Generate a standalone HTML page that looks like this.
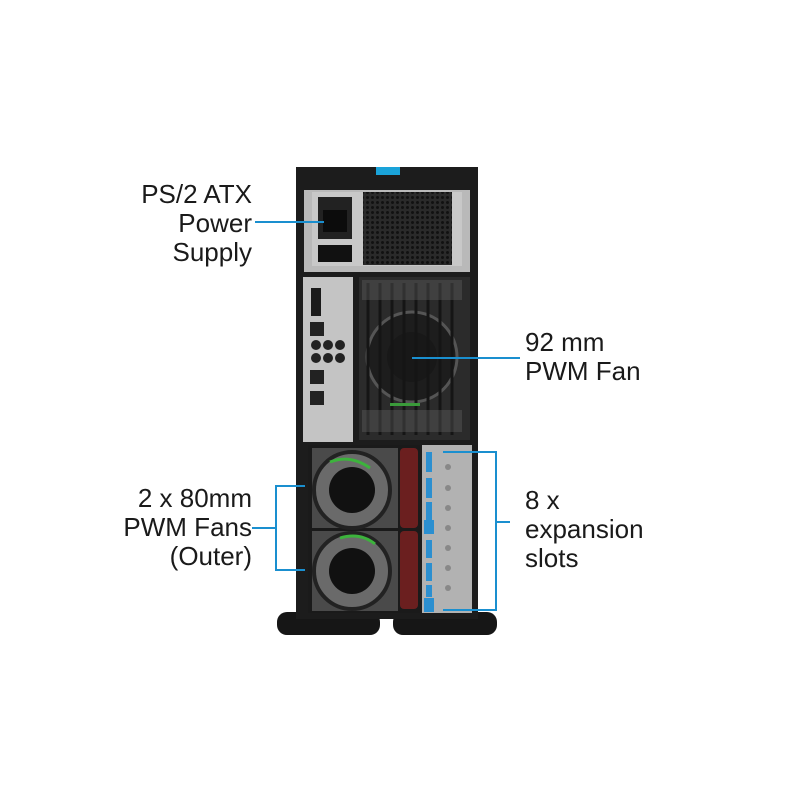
<!DOCTYPE html>
<html><head><style>
body{margin:0;width:800px;height:800px;background:#fff;position:relative;overflow:hidden;font-family:"Liberation Sans",sans-serif}
.t{position:absolute;font-size:26px;line-height:29px;color:#1a1a1a}
.r{text-align:right}
</style></head><body>
<svg width="800" height="800" style="position:absolute;left:0;top:0">
<defs>
<pattern id="mesh" width="5" height="5" patternUnits="userSpaceOnUse"><rect width="5" height="5" fill="#2a2a2a"/><circle cx="2.5" cy="2.5" r="1.5" fill="#111"/></pattern>
</defs>
<rect x="277" y="612" width="103" height="23" rx="10" fill="#161616"/>
<rect x="393" y="612" width="104" height="23" rx="10" fill="#161616"/>
<rect x="296" y="167" width="182" height="452" fill="#1c1c1c"/>
<rect x="376" y="167" width="24" height="8" fill="#1aa3d9"/>
<rect x="304" y="190" width="166" height="82" fill="#b9b9b9"/>
<rect x="312" y="192" width="150" height="74" fill="#c8c8c8"/>
<rect x="363" y="192" width="89" height="73" fill="url(#mesh)"/>
<rect x="318" y="197" width="34" height="42" fill="#222"/>
<rect x="323" y="210" width="24" height="22" fill="#0c0c0c"/>
<rect x="318" y="245" width="34" height="17" fill="#111"/>
<rect x="303" y="277" width="50" height="165" fill="#c4c4c4"/>
<rect x="311" y="288" width="10" height="28" fill="#1a1a1a"/>
<rect x="310" y="322" width="14" height="14" fill="#222"/>
<circle cx="316" cy="345" r="5" fill="#222"/><circle cx="328" cy="345" r="5" fill="#222"/><circle cx="340" cy="345" r="5" fill="#222"/>
<circle cx="316" cy="358" r="5" fill="#222"/><circle cx="328" cy="358" r="5" fill="#222"/><circle cx="340" cy="358" r="5" fill="#222"/>
<rect x="310" y="370" width="14" height="14" fill="#222"/>
<rect x="310" y="391" width="14" height="14" fill="#222"/>
<rect x="359" y="277" width="111" height="163" fill="#2b2b2b"/>
<circle cx="412" cy="357" r="45" fill="#1d1d1d" stroke="#555" stroke-width="3"/>
<circle cx="412" cy="357" r="25" fill="#181818"/>
<g stroke="#151515" stroke-width="3">
<line x1="368" y1="283" x2="368" y2="435"/><line x1="380" y1="283" x2="380" y2="435"/><line x1="392" y1="283" x2="392" y2="435"/><line x1="404" y1="283" x2="404" y2="435"/><line x1="416" y1="283" x2="416" y2="435"/><line x1="428" y1="283" x2="428" y2="435"/><line x1="440" y1="283" x2="440" y2="435"/><line x1="452" y1="283" x2="452" y2="435"/>
</g>
<rect x="362" y="280" width="100" height="20" fill="#666" opacity="0.35"/>
<rect x="362" y="410" width="100" height="22" fill="#666" opacity="0.35"/>
<rect x="390" y="403" width="30" height="3" fill="#3a9a3a"/>
<rect x="308" y="445" width="112" height="168" fill="#1a1a1a"/>
<rect x="312" y="448" width="86" height="80" fill="#4a4a4a"/>
<rect x="312" y="531" width="86" height="80" fill="#4a4a4a"/>
<circle cx="352" cy="490" r="38" fill="#6a6a6a" stroke="#222" stroke-width="4"/>
<circle cx="352" cy="571" r="38" fill="#6a6a6a" stroke="#222" stroke-width="4"/>
<circle cx="352" cy="490" r="23" fill="#111"/>
<circle cx="352" cy="571" r="23" fill="#111"/>
<path d="M330 462 q20 -8 40 6" stroke="#3cb33c" stroke-width="3" fill="none"/>
<path d="M340 538 q20 -6 35 6" stroke="#3cb33c" stroke-width="3" fill="none"/>
<rect x="400" y="448" width="18" height="80" rx="4" fill="#6b1f1f"/>
<rect x="400" y="531" width="18" height="78" rx="4" fill="#6b1f1f"/>
<rect x="422" y="445" width="50" height="168" fill="#b2b2b2"/>
<g fill="#2b8fd0">
<rect x="426" y="452" width="6" height="20"/><rect x="426" y="478" width="6" height="20"/><rect x="426" y="502" width="6" height="18"/><rect x="424" y="520" width="10" height="14"/>
<rect x="426" y="540" width="6" height="18"/><rect x="426" y="563" width="6" height="18"/><rect x="426" y="585" width="6" height="12"/><rect x="424" y="598" width="10" height="14"/>
</g>
<g fill="#888"><circle cx="448" cy="467" r="3"/><circle cx="448" cy="488" r="3"/><circle cx="448" cy="508" r="3"/><circle cx="448" cy="528" r="3"/><circle cx="448" cy="548" r="3"/><circle cx="448" cy="568" r="3"/><circle cx="448" cy="588" r="3"/></g>
<g stroke="#1a8fcf" stroke-width="2" fill="none">
<line x1="255" y1="222" x2="324" y2="222"/>
<line x1="412" y1="358" x2="520" y2="358"/>
<polyline points="305,486 276,486 276,570 305,570"/>
<line x1="252" y1="528" x2="276" y2="528"/>
<polyline points="443,452 496,452 496,610 443,610"/>
<line x1="496" y1="522" x2="510" y2="522"/>
</g>
</svg>
<div class="t r" style="right:548px;top:180px">PS/2 ATX<br>Power<br>Supply</div>
<div class="t" style="left:525px;top:328px">92 mm<br>PWM Fan</div>
<div class="t r" style="right:548px;top:484px">2 x 80mm<br>PWM Fans<br>(Outer)</div>
<div class="t" style="left:525px;top:486px">8 x<br>expansion<br>slots</div>
</body></html>
